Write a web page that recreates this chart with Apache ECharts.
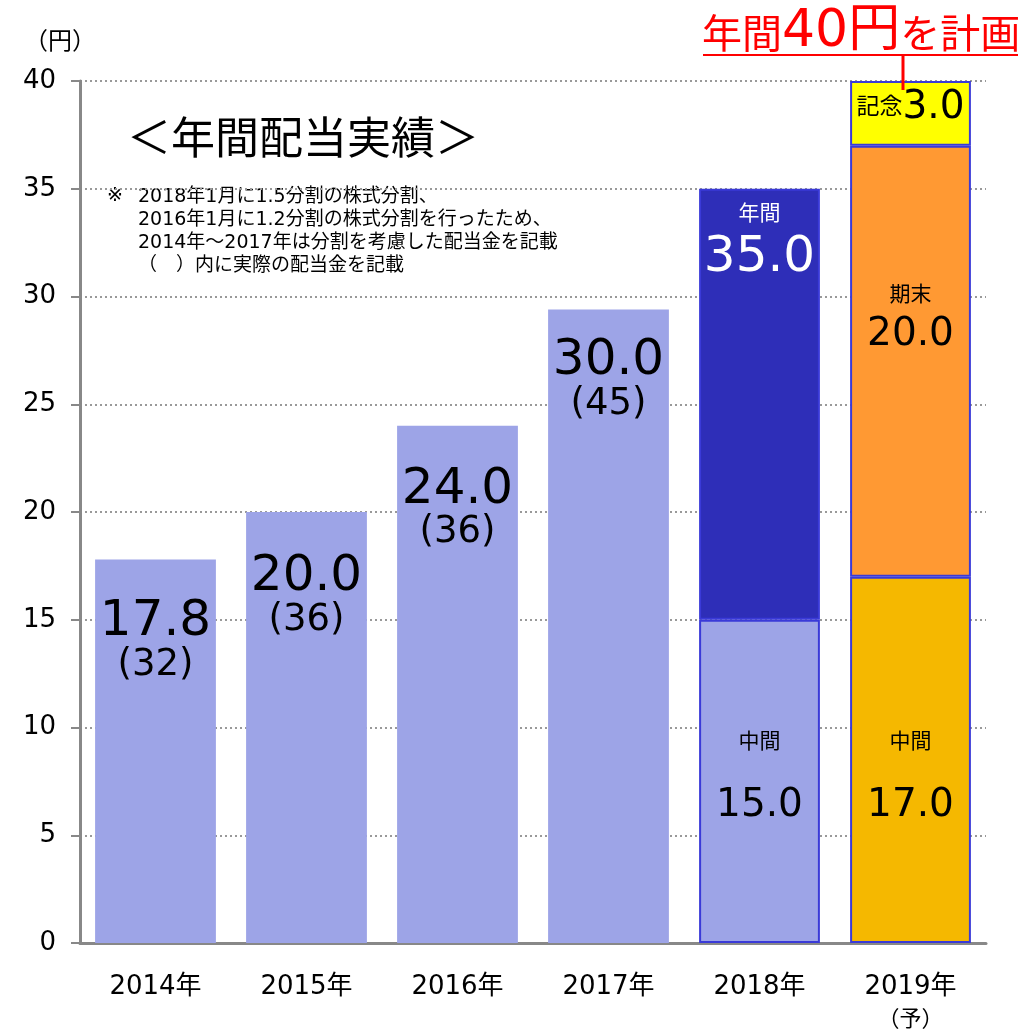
<!DOCTYPE html>
<html>
<head>
<meta charset="utf-8">
<script src="https://cdn.jsdelivr.net/npm/echarts@6/dist/echarts.min.js"></script>
<style>
  html, body { margin: 0; padding: 0; background: #fff; }
  #chart { width: 1022px; height: 1030px; }
</style>
</head>
<body>
<div id="chart"></div>
<script>
// data
const years = ["2014年", "2015年", "2016年", "2017年", "2018年", "2019年"];
const yearNotes = ["", "", "", "", "", "（予）"];
const interim = [17.8, 20.0, 24.0, 29.4, 15.0, 17.0];
const yearEnd = ["-", "-", "-", "-", 20.0, 20.0];
const commemorative = ["-", "-", "-", "-", "-", 3.0];
const annualText = ["17.8", "20.0", "24.0", "30.0"];
const actualText = ["(32)", "(36)", "(36)", "(45)"];
const yearEndHead = ["", "", "", "", "年間", "期末"];
const yearEndText = ["", "", "", "", "35.0", "20.0"];

const font = "'DejaVu Sans', 'Noto Sans CJK JP', sans-serif";
const light = "#9da4e7";
const dark = "#2e2eb8";
const orange = "#ff9933";
const gold = "#f5b800";
const yellow = "#ffff00";
const edge = "#3a3ad8";

// top offset of the annual label inside the 2014-2017 bars
const annualDist = [43, 45, 44, 32];

const chart = echarts.init(document.getElementById("chart"));

const interimData = interim.map((v, i) => {
    if (i < 4) {
        return { value: v, label: { position: "insideTop", distance: annualDist[i] } };
    }
    return {
        value: v,
        itemStyle: { color: i === 4 ? light : gold, borderColor: edge, borderWidth: 2 },
        label: { position: "insideBottom", distance: 89 },
    };
});
const yearEndData = yearEnd.map((v, i) => {
    if (v === "-") return "-";
    return {
        value: v,
        itemStyle: { color: i === 4 ? dark : orange, borderColor: edge, borderWidth: 2 },
        label: { position: "insideTop", distance: i === 4 ? 11 : 135 },
    };
});
const commemorativeData = commemorative.map((v) =>
    v === "-" ? "-" : { value: v, itemStyle: { color: yellow, borderColor: edge, borderWidth: 2 } }
);

const option = {
    animation: false,
    textStyle: { fontFamily: font },
    grid: { left: 80, right: 36, top: 81, bottom: 87, outerBoundsMode: "none" },
    xAxis: {
        type: "category",
        data: years,
        axisLine: { lineStyle: { color: "#888", width: 3 } },
        axisTick: { show: false },
        axisLabel: {
            interval: 0,
            margin: 29,
            color: "#000",
            fontSize: 26,
            lineHeight: 30,
            fontFamily: font,
            formatter: (v, i) => (yearNotes[i] ? v + "\n{p|" + yearNotes[i] + "}" : v),
            rich: { p: { fontSize: 22, lineHeight: 36, color: "#000", fontFamily: font } },
        },
    },
    yAxis: {
        type: "value",
        min: 0,
        max: 40,
        interval: 5,
        axisLine: { show: true, lineStyle: { color: "#888", width: 3 } },
        axisTick: { show: true, length: 9, lineStyle: { color: "#888", width: 2 } },
        axisLabel: { margin: 24, color: "#000", fontSize: 26, fontFamily: font },
        splitLine: { lineStyle: { color: "#999", width: 2, type: [2, 3] } },
    },
    series: [
        {
            name: "中間",
            type: "bar",
            stack: "div",
            barCategoryGap: "20%",
            itemStyle: { color: light },
            data: interimData,
            label: {
                show: true,
                color: "#000",
                formatter: (p) =>
                    p.dataIndex < 4
                        ? "{a|" + annualText[p.dataIndex] + "}\n{b|" + actualText[p.dataIndex] + "}"
                        : "{c|中間}\n{d|" + p.value.toFixed(1) + "}",
                rich: {
                    a: { fontSize: 50, lineHeight: 40, color: "#000", fontFamily: font },
                    b: { fontSize: 37, lineHeight: 46, color: "#000", fontFamily: font },
                    c: { fontSize: 21, lineHeight: 30, color: "#000", fontFamily: font },
                    d: { fontSize: 39, lineHeight: 96, color: "#000", fontFamily: font },
                },
            },
        },
        {
            name: "期末",
            type: "bar",
            stack: "div",
            data: yearEndData,
            label: {
                show: true,
                formatter: (p) =>
                    p.dataIndex === 4
                        ? "{ew|" + yearEndHead[4] + "}\n{fw|" + yearEndText[4] + "}"
                        : "{e|" + yearEndHead[p.dataIndex] + "}\n{f|" + yearEndText[p.dataIndex] + "}",
                rich: {
                    ew: { fontSize: 21, lineHeight: 30, color: "#fff", fontFamily: font },
                    fw: { fontSize: 50, lineHeight: 56, color: "#fff", fontFamily: font },
                    e: { fontSize: 21, lineHeight: 30, color: "#000", fontFamily: font },
                    f: { fontSize: 39, lineHeight: 48, color: "#000", fontFamily: font },
                },
            },
        },
        {
            name: "記念",
            type: "bar",
            stack: "div",
            data: commemorativeData,
            label: {
                show: true,
                position: "inside",
                offset: [0, -5],
                formatter: (p) => "{g|記念}{h|" + p.value.toFixed(1) + "}",
                rich: {
                    g: { fontSize: 23, color: "#000", fontFamily: font },
                    h: { fontSize: 39, color: "#000", fontFamily: font },
                },
            },
        },
    ],
    graphic: [
        {
            type: "text",
            left: 24,
            top: 31,
            style: { text: "（円）", fontSize: 24, fill: "#000", fontFamily: font },
        },
        {
            type: "text",
            left: 127,
            top: 121,
            style: { text: "＜年間配当実績＞", fontSize: 44, fill: "#000", fontFamily: font },
        },
        {
            type: "text",
            left: 107,
            top: 187,
            style: { text: "※", fontSize: 19, fill: "#000", fontFamily: font },
        },
        {
            type: "text",
            left: 138,
            top: 186,
            style: {
                text:
                    "2018年1月に1.5分割の株式分割、\n" +
                    "2016年1月に1.2分割の株式分割を行ったため、\n" +
                    "2014年～2017年は分割を考慮した配当金を記載\n" +
                    "（　）内に実際の配当金を記載",
                fontSize: 19,
                lineHeight: 23,
                fill: "#000",
                fontFamily: font,
            },
        },
        {
            type: "text",
            left: 702,
            top: 6,
            style: {
                text: "{s|年間}{l|40円}{s|を計画}",
                fill: "#ff0000",
                rich: {
                    s: { fontSize: 40, fill: "#ff0000", fontFamily: font, verticalAlign: "bottom" },
                    l: { fontSize: 52, fill: "#ff0000", fontFamily: font, verticalAlign: "bottom" },
                },
            },
        },
        {
            type: "line",
            shape: { x1: 703, y1: 55, x2: 1018, y2: 55 },
            style: { stroke: "#ff0000", lineWidth: 2 },
        },
        {
            type: "line",
            shape: { x1: 903, y1: 56, x2: 903, y2: 90 },
            style: { stroke: "#ff0000", lineWidth: 3 },
            z: 100,
        },
    ],
};

chart.setOption(option);
</script>
</body>
</html>
